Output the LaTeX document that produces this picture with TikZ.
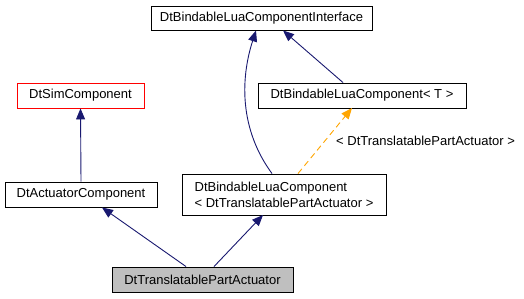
\documentclass[tikz,border=0pt]{standalone}
\usepackage{fontspec}
\setmainfont{Liberation Sans}
\usetikzlibrary{arrows.meta}
\definecolor{edgeblue}{HTML}{191970}
\definecolor{edgeorange}{HTML}{FFA500}
\tikzset{
  lblfont/.style={font=\fontsize{13}{16}\selectfont},
  cls/.style={draw=black, line width=0.9pt, fill=white, inner sep=0pt, lblfont},
  inh/.style={draw=edgeblue, line width=0.9pt, -{Triangle[length=11pt,width=9pt]}},
  tmpl/.style={draw=edgeorange, line width=0.9pt, dash pattern=on 6pt off 4pt, -{Triangle[length=11pt,width=9pt]}},
}
\begin{document}
\begin{tikzpicture}[x=1pt,y=-1pt]
\useasboundingbox (0,0) rectangle (524,299);
\node[cls, minimum width=221pt, minimum height=24pt] (iface) at (261.5,18) {DtBindableLuaComponentInterface};
\node[cls, draw=red, minimum width=127pt, minimum height=25pt] (sim) at (80.5,95.5) {DtSimComponent};
\node[cls, minimum width=208pt, minimum height=25pt] (blt) at (362,95.5) {DtBindableLuaComponent< T >};
\node[cls, minimum width=152pt, minimum height=25pt] (act) at (81,194.5) {DtActuatorComponent};
\node[cls, minimum width=204pt, minimum height=41pt, align=left] (bltp) at (284,194.5) {DtBindableLuaComponent\\< DtTranslatablePartActuator >};
\node[cls, fill={rgb,255:red,191;green,191;blue,191}, minimum width=181pt, minimum height=25pt] (tpa) at (202.5,279.5) {DtTranslatablePartActuator};
\node[lblfont, anchor=west, inner sep=0pt] (lbl) at (336,141) {< DtTranslatablePartActuator >};

\coordinate (iL) at (256,30.5);
\coordinate (iR) at (283,30.5);
\draw[inh] (act.north) -- (sim.south);
\draw[inh] (tpa.north -| 186,0) -- (102,207.5);
\draw[inh] (tpa.north -| 214,0) -- (263,215);
\draw[inh] (bltp.north -| 272,0) .. controls (240,130) and (240,80) .. (iL);
\draw[inh] (blt.north -| 343,0) -- (iR);
\draw[tmpl] (bltp.north -| 298,0) -- (352,108);
\end{tikzpicture}
\end{document}
